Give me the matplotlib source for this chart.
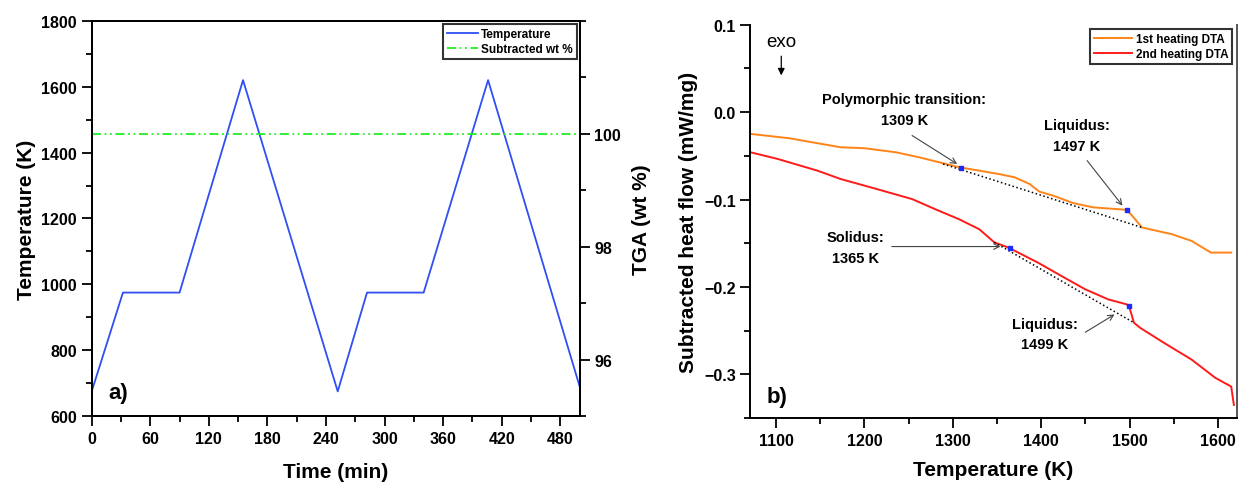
import matplotlib
matplotlib.use("Agg")
import matplotlib.pyplot as plt
from matplotlib.ticker import MultipleLocator

plt.rcParams['font.family'] = ['Liberation Sans', 'DejaVu Sans']
plt.rcParams['font.weight'] = 'bold'
plt.rcParams['axes.labelweight'] = 'bold'

# panel a) temperature program and TGA
time_min = [0, 32, 90, 155, 252, 282, 340, 406, 500]
temp_k = [675, 975, 975, 1620, 675, 975, 975, 1620, 688]
tga_time = [0, 60, 120, 180, 240, 300, 360, 420, 500]
tga_wt = [100.0, 100.0, 100.0, 100.0, 100.0, 100.0, 100.0, 100.0, 100.0]

# panel b) DTA curves
heat1_T = [1071, 1115, 1173, 1200, 1236, 1262, 1307, 1352, 1370, 1387, 1398,
           1414, 1436, 1459, 1497, 1503, 1514, 1548, 1570, 1592, 1615]
heat1_q = [-0.0249, -0.0299, -0.0402, -0.0413, -0.0460, -0.0517, -0.0630,
           -0.0708, -0.0746, -0.0823, -0.0910, -0.0957, -0.1040, -0.1090,
           -0.1118, -0.1186, -0.1320, -0.1397, -0.1473, -0.1607, -0.1607]
heat2_T = [1071, 1102, 1147, 1173, 1214, 1254, 1280, 1307, 1330, 1347, 1363,
           1396, 1423, 1450, 1476, 1497, 1500, 1505, 1512, 1539, 1570, 1597,
           1615, 1618]
heat2_q = [-0.0459, -0.0536, -0.0670, -0.0765, -0.0880, -0.0995, -0.1110,
           -0.1225, -0.1340, -0.1490, -0.1550, -0.1720, -0.1875, -0.2028,
           -0.2143, -0.2200, -0.2240, -0.2410, -0.2468, -0.2640, -0.2830,
           -0.3040, -0.3140, -0.3350]
tan1_T = [1289, 1514]
tan1_q = [-0.0593, -0.1320]
tan2_T = [1347, 1505]
tan2_q = [-0.1490, -0.2410]
onset_T = [1309, 1497, 1365, 1499]
onset_q = [-0.0645, -0.1118, -0.1550, -0.2220]

fig = plt.figure(figsize=(12.39, 4.85), dpi=100)

# ---- panel a ----
ax1 = fig.add_axes([0.074, 0.140, 0.394, 0.815])
ax2 = ax1.twinx()
ln1, = ax1.plot(time_min, temp_k, color='#2f4ff5', lw=1.3, label='Temperature')
ln2, = ax2.plot(tga_time, tga_wt, color='#22ee22', lw=1.3, ls=(0, (5, 2, 1, 2, 1, 2)),
                label='Subtracted wt %')
ax1.set_xlim(0, 500)
ax1.set_ylim(600, 1800)
ax2.set_ylim(95, 102)
ax1.xaxis.set_major_locator(MultipleLocator(60))
ax1.xaxis.set_minor_locator(MultipleLocator(30))
ax1.yaxis.set_major_locator(MultipleLocator(200))
ax1.yaxis.set_minor_locator(MultipleLocator(100))
ax2.set_yticks([96, 98, 100])
ax2.yaxis.set_minor_locator(MultipleLocator(1))
ax1.set_xlabel('Time (min)', fontsize=15, labelpad=12)
ax1.set_ylabel('Temperature (K)', fontsize=15)
ax2.set_ylabel('TGA (wt %)', fontsize=15, labelpad=8)
for a in (ax1, ax2):
    a.tick_params(which='major', length=7, width=1.3, labelsize=11.5)
    a.tick_params(which='minor', length=4, width=1.3)
    for s in a.spines.values():
        s.set_linewidth(1.4)
ax1.spines['top'].set_color('#555555')
ax1.text(0.035, 0.045, 'a)', transform=ax1.transAxes, fontsize=16)
leg = ax1.legend(handles=[ln1, ln2], loc='upper right', fontsize=8.5, frameon=True,
                 fancybox=False, edgecolor='black', handlelength=2.6,
                 borderaxespad=0.25, borderpad=0.35, labelspacing=0.25,
                 handletextpad=0.3)
leg.get_frame().set_linewidth(1.5)

# ---- panel b ----
bx = fig.add_axes([0.6056, 0.136, 0.3924, 0.811])
l1, = bx.plot(heat1_T, heat1_q, color='#ff8418', lw=1.4, label='1st heating DTA')
l2, = bx.plot(heat2_T, heat2_q, color='#ff1a1a', lw=1.4, label='2nd heating DTA')
bx.plot(tan1_T, tan1_q, color='black', ls=':', lw=1.1)
bx.plot(tan2_T, tan2_q, color='black', ls=':', lw=1.1)
bx.plot(onset_T, onset_q, 's', color='#1a2cff', ms=2.5, ls='none')
bx.set_xlim(1071, 1621)
bx.set_ylim(-0.35, 0.1)
bx.xaxis.set_major_locator(MultipleLocator(100))
bx.xaxis.set_minor_locator(MultipleLocator(50))
bx.yaxis.set_major_locator(MultipleLocator(0.1))
bx.yaxis.set_minor_locator(MultipleLocator(0.05))
bx.set_yticks([-0.3, -0.2, -0.1, 0.0, 0.1])
bx.set_yticklabels(['\u22120.3', '\u22120.2', '\u22120.1', '0.0', '0.1'])
bx.set_xlabel('Temperature (K)', fontsize=15, labelpad=9)
bx.set_ylabel('Subtracted heat flow (mW/mg)', fontsize=15)
bx.tick_params(which='major', length=7, width=1.3, labelsize=11.5)
bx.tick_params(which='minor', length=4, width=1.3)
for s in bx.spines.values():
    s.set_linewidth(1.4)
bx.spines['top'].set_visible(False)
bx.spines['right'].set_color('#555555')
bx.text(0.033, 0.04, 'b)', transform=bx.transAxes, fontsize=16)

arrow = dict(arrowstyle='->', color='#444444', lw=0.8, shrinkA=0, shrinkB=0)
bx.text(1106, 0.081, 'exo', fontsize=13.5, fontweight='normal', ha='center', va='center')
bx.annotate('', xy=(1106, 0.042), xytext=(1106, 0.064),
            arrowprops=dict(arrowstyle='-|>', color='black', lw=0.9, shrinkA=0, shrinkB=0))
bx.text(1245, 0.003, 'Polymorphic transition:\n1309 K', fontsize=10.5, ha='center',
        va='center', linespacing=1.6)
bx.annotate('', xy=(1305, -0.0593), xytext=(1254, -0.0268), arrowprops=arrow)
bx.text(1440, -0.027, 'Liquidus:\n1497 K', fontsize=10.5, ha='center', va='center',
        linespacing=1.6)
bx.annotate('', xy=(1492, -0.107), xytext=(1452, -0.0555), arrowprops=arrow)
bx.text(1190, -0.155, 'Solidus:\n1365 K', fontsize=10.5, ha='center', va='center',
        linespacing=1.6)
bx.annotate('', xy=(1354, -0.1538), xytext=(1231, -0.1538), arrowprops=arrow)
bx.text(1404, -0.2537, 'Liquidus:\n1499 K', fontsize=10.5, ha='center', va='center',
        linespacing=1.6)
bx.annotate('', xy=(1483, -0.2315), xytext=(1450, -0.2518), arrowprops=arrow)

leg2 = bx.legend(handles=[l1, l2], loc='upper right', fontsize=8.5, frameon=True,
                 fancybox=False, edgecolor='black', handlelength=3.2,
                 borderaxespad=0.35, borderpad=0.35, labelspacing=0.25,
                 handletextpad=0.3)
leg2.get_frame().set_linewidth(1.5)

fig.savefig('out.png', dpi=100)
